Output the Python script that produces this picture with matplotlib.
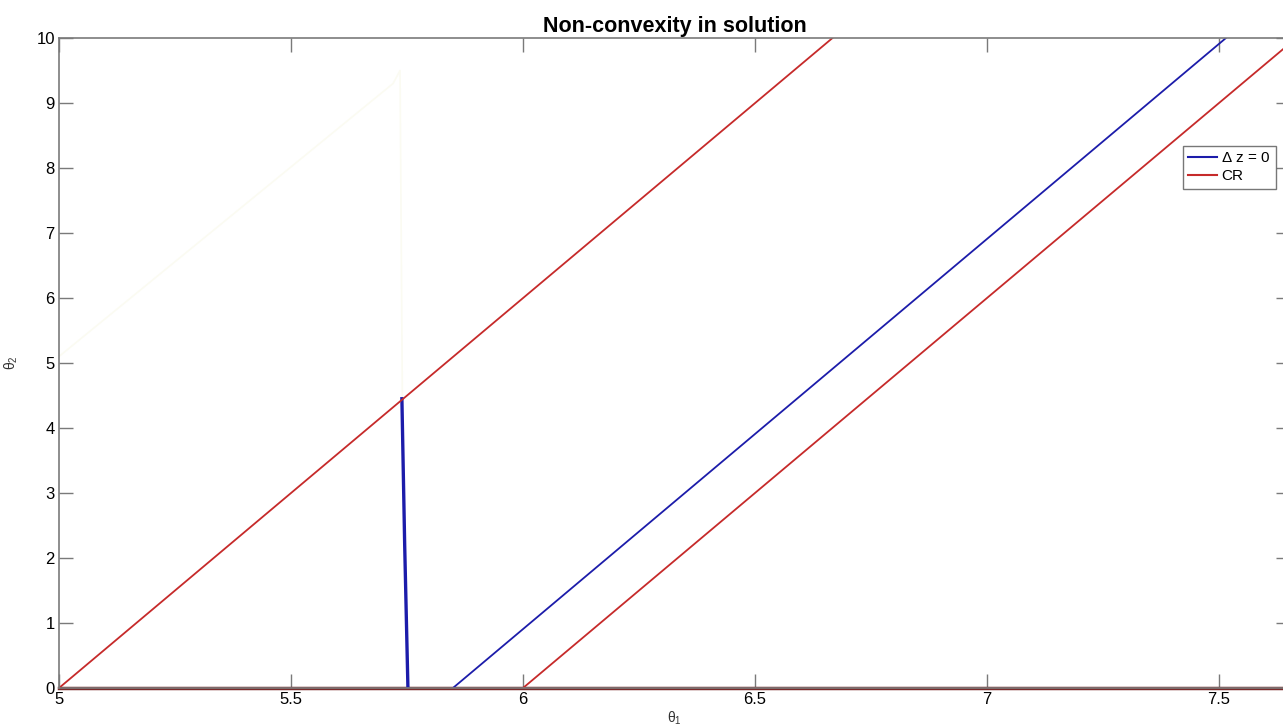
import matplotlib
matplotlib.use("Agg")
import matplotlib.pyplot as plt

plt.rcParams['font.family'] = ['Liberation Sans', 'DejaVu Sans']
plt.rcParams['mathtext.fontset'] = 'custom'
plt.rcParams['mathtext.rm'] = 'Liberation Sans'
plt.rcParams['mathtext.it'] = 'Liberation Sans'

# data
cr_left_x = [5.0, 6.667]
cr_left_y = [0.0, 10.0]
cr_right_x = [6.0, 7.66]
cr_right_y = [0.0, 9.96]
cr_base_x = [5.0, 7.66]
cr_base_y = [0.0, 0.0]

dz_vert_x = [5.739, 5.745, 5.752]
dz_vert_y = [4.45, 2.2, 0.0]
dz_diag_x = [5.849, 7.515]
dz_diag_y = [0.0, 10.0]

faint_x = [5.0, 5.72, 5.735, 5.74]
faint_y = [5.1, 9.3, 9.5, 4.45]

xticks = [5, 5.5, 6, 6.5, 7, 7.5]
yticks = list(range(0, 11))

red = '#c62a2a'
blue = '#1c1caa'

fig = plt.figure(figsize=(12.83, 7.28), dpi=100)
ax = fig.add_axes([59 / 1283, 1 - 688 / 728, (1290 - 59) / 1283, (688 - 38) / 728])

ax.plot(faint_x, faint_y, color='#fbfbf2', lw=1.2)
ax.plot(cr_base_x, cr_base_y, color='#7a2a2a', lw=2.5, clip_on=False)
l1, = ax.plot(dz_vert_x, dz_vert_y, color=blue, lw=2.4)
ax.plot(dz_diag_x, dz_diag_y, color=blue, lw=1.3)
l2, = ax.plot(cr_left_x, cr_left_y, color=red, lw=1.3)
ax.plot(cr_right_x, cr_right_y, color=red, lw=1.3)

ax.set_xlim(5, 7.653)
ax.set_ylim(0, 10)
ax.set_xticks(xticks)
ax.set_xticklabels(['5', '5.5', '6', '6.5', '7', '7.5'])
ax.set_yticks(yticks)

for s in ax.spines.values():
    s.set_color('#7a7a7a')
    s.set_linewidth(1.2)
ax.tick_params(direction='in', length=10, width=1, color='#7a7a7a',
               top=True, right=True, labelsize=12, pad=3)

ax.set_title('Non-convexity in solution', fontsize=15.5, fontweight='bold', pad=4)
ax.set_xlabel(r'$\theta_1$', fontsize=10, color='#333333', labelpad=2)
ax.set_ylabel(r'$\theta_2$', fontsize=10, color='#333333', labelpad=12)

leg = ax.legend([l1, l2], [r'$\Delta$ z = 0', 'CR'], loc='upper left',
                bbox_to_anchor=(1183 / 1283, 1 - 146 / 728), bbox_transform=fig.transFigure,
                fontsize=11, frameon=True, fancybox=False, handlelength=1.9,
                handletextpad=0.25, borderpad=0.35, labelspacing=0.25, borderaxespad=0)
leg.get_frame().set_edgecolor('#555555')
leg.get_frame().set_linewidth(1)
for h in leg.legend_handles:
    h.set_linewidth(1.5)

fig.savefig('out.png', dpi=100)
